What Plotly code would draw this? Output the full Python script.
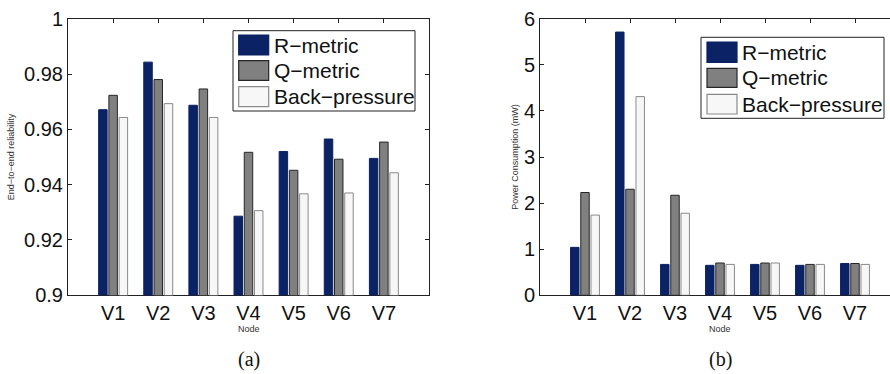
import plotly.graph_objects as go

# ---------------- data ----------------
nodes = ["V1", "V2", "V3", "V4", "V5", "V6", "V7"]
series_names = ["R−metric", "Q−metric", "Back−pressure"]

rel_r = [0.9671, 0.9843, 0.9687, 0.9286, 0.9520, 0.9565, 0.9495]
rel_q = [0.9723, 0.9780, 0.9746, 0.9517, 0.9452, 0.9492, 0.9554]
rel_b = [0.9643, 0.9693, 0.9643, 0.9306, 0.9367, 0.9370, 0.9443]

pow_r = [1.04, 5.71, 0.67, 0.65, 0.67, 0.65, 0.69]
pow_q = [2.23, 2.30, 2.17, 0.70, 0.70, 0.67, 0.69]
pow_b = [1.74, 4.31, 1.78, 0.67, 0.70, 0.67, 0.67]

rel_ticks = [0.9, 0.92, 0.94, 0.96, 0.98, 1.0]
rel_ticktext = ["0.9", "0.92", "0.94", "0.96", "0.98", "1"]
pow_ticks = [0, 1, 2, 3, 4, 5, 6]
pow_ticktext = ["0", "1", "2", "3", "4", "5", "6"]

# ---------------- styles ----------------
W, H = 890, 374
fills = ["#0b2265", "#808080", "#f7f7f7"]
edges = ["#0b2265", "#262626", "#8a8a8a"]
FONT = "Liberation Sans, Arial, sans-serif"


def px(x):
    return x / W


def py(y):
    return 1 - y / H


fig = go.Figure()
for vals, xa, ya in [((rel_r, rel_q, rel_b), "x", "y"), ((pow_r, pow_q, pow_b), "x2", "y2")]:
    for i, v in enumerate(vals):
        fig.add_trace(go.Bar(
            x=nodes, y=v, name=series_names[i], xaxis=xa, yaxis=ya,
            marker=dict(color=fills[i], line=dict(color=edges[i], width=1)),
            showlegend=False,
        ))

ydom = [py(295.3), py(18.7)]
common_x = dict(type="category", showline=True, linecolor="#222", linewidth=1,
                ticks="inside", ticklen=4, tickcolor="#222", mirror="ticks",
                showgrid=False, zeroline=False, layer="below traces",
                tickfont=dict(family=FONT, size=20, color="#111"), automargin=False)
common_y = dict(showline=True, linecolor="#222", linewidth=1, ticks="inside",
                ticklen=4, tickcolor="#222", showgrid=False, zeroline=False,
                tickfont=dict(family=FONT, size=20, color="#111"), automargin=False)

fig.update_layout(
    width=W, height=H, margin=dict(l=0, r=0, t=0, b=0),
    paper_bgcolor="white", plot_bgcolor="white",
    barmode="group", bargap=0.32, bargroupgap=0.17,
    xaxis=dict(common_x, domain=[px(68), px(429)], range=[-1, 7], anchor="y"),
    yaxis=dict(common_y, domain=ydom, range=[0.9, 1.0], anchor="x", mirror="ticks",
               tickvals=rel_ticks, ticktext=rel_ticktext,
               title=dict(text="End−to−end reliability", standoff=7,
                          font=dict(family=FONT, size=9, color="#333"))),
    xaxis2=dict(common_x, domain=[px(540), 1.0], range=[-1, -1 + 350 / 45.0], anchor="y2"),
    yaxis2=dict(common_y, domain=ydom, range=[0, 6], anchor="x2", mirror=False,
                tickvals=pow_ticks, ticktext=pow_ticktext,
                title=dict(text="Power Consumption (mW)", standoff=3,
                           font=dict(family=FONT, size=9, color="#333"))),
    showlegend=False,
)

# x-axis titles and panel captions
for xref, cap in [("x", "(a)"), ("x2", "(b)")]:
    fig.add_annotation(x="V4", xref=xref, y=py(328.5), yref="paper", text="Node",
                       showarrow=False, font=dict(family=FONT, size=9, color="#333"),
                       xanchor="center", yanchor="middle")
    fig.add_annotation(x="V4", xref=xref, y=py(359), yref="paper", text=cap,
                       showarrow=False,
                       font=dict(family="Liberation Serif, Times New Roman, serif", size=20, color="#111"),
                       xanchor="center", yanchor="middle")

# legends (drawn boxes)
legends = [
    dict(box=(233, 30.7, 415, 111), sw_x=(238.7, 268.7),
         rows=[(35, 55), (60.7, 80.3), (86.7, 106.7)], tx=271.5),
    dict(box=(701, 37.3, 884, 118.3), sw_x=(707, 737),
         rows=[(42, 62.3), (68.3, 87.3), (94.3, 114)], tx=739.5),
]
for lg in legends:
    x0, y0, x1, y1 = lg["box"]
    fig.add_shape(type="rect", xref="paper", yref="paper",
                  x0=px(x0), x1=px(x1), y0=py(y1), y1=py(y0),
                  line=dict(color="#222", width=1), fillcolor="white", layer="above")
    for i, (ra, rb) in enumerate(lg["rows"]):
        fig.add_shape(type="rect", xref="paper", yref="paper",
                      x0=px(lg["sw_x"][0]), x1=px(lg["sw_x"][1]), y0=py(rb), y1=py(ra),
                      line=dict(color=edges[i] if i else fills[0], width=1.2),
                      fillcolor=fills[i], layer="above")
        fig.add_annotation(x=px(lg["tx"]), y=py((ra + rb) / 2), xref="paper", yref="paper",
                           text=series_names[i], showarrow=False, xanchor="left",
                           yanchor="middle", font=dict(family=FONT, size=21, color="#111"))

fig.write_html("out.html", config={"displayModeBar": False},
               post_script="document.body.style.margin='0';document.body.style.overflow='hidden';")
